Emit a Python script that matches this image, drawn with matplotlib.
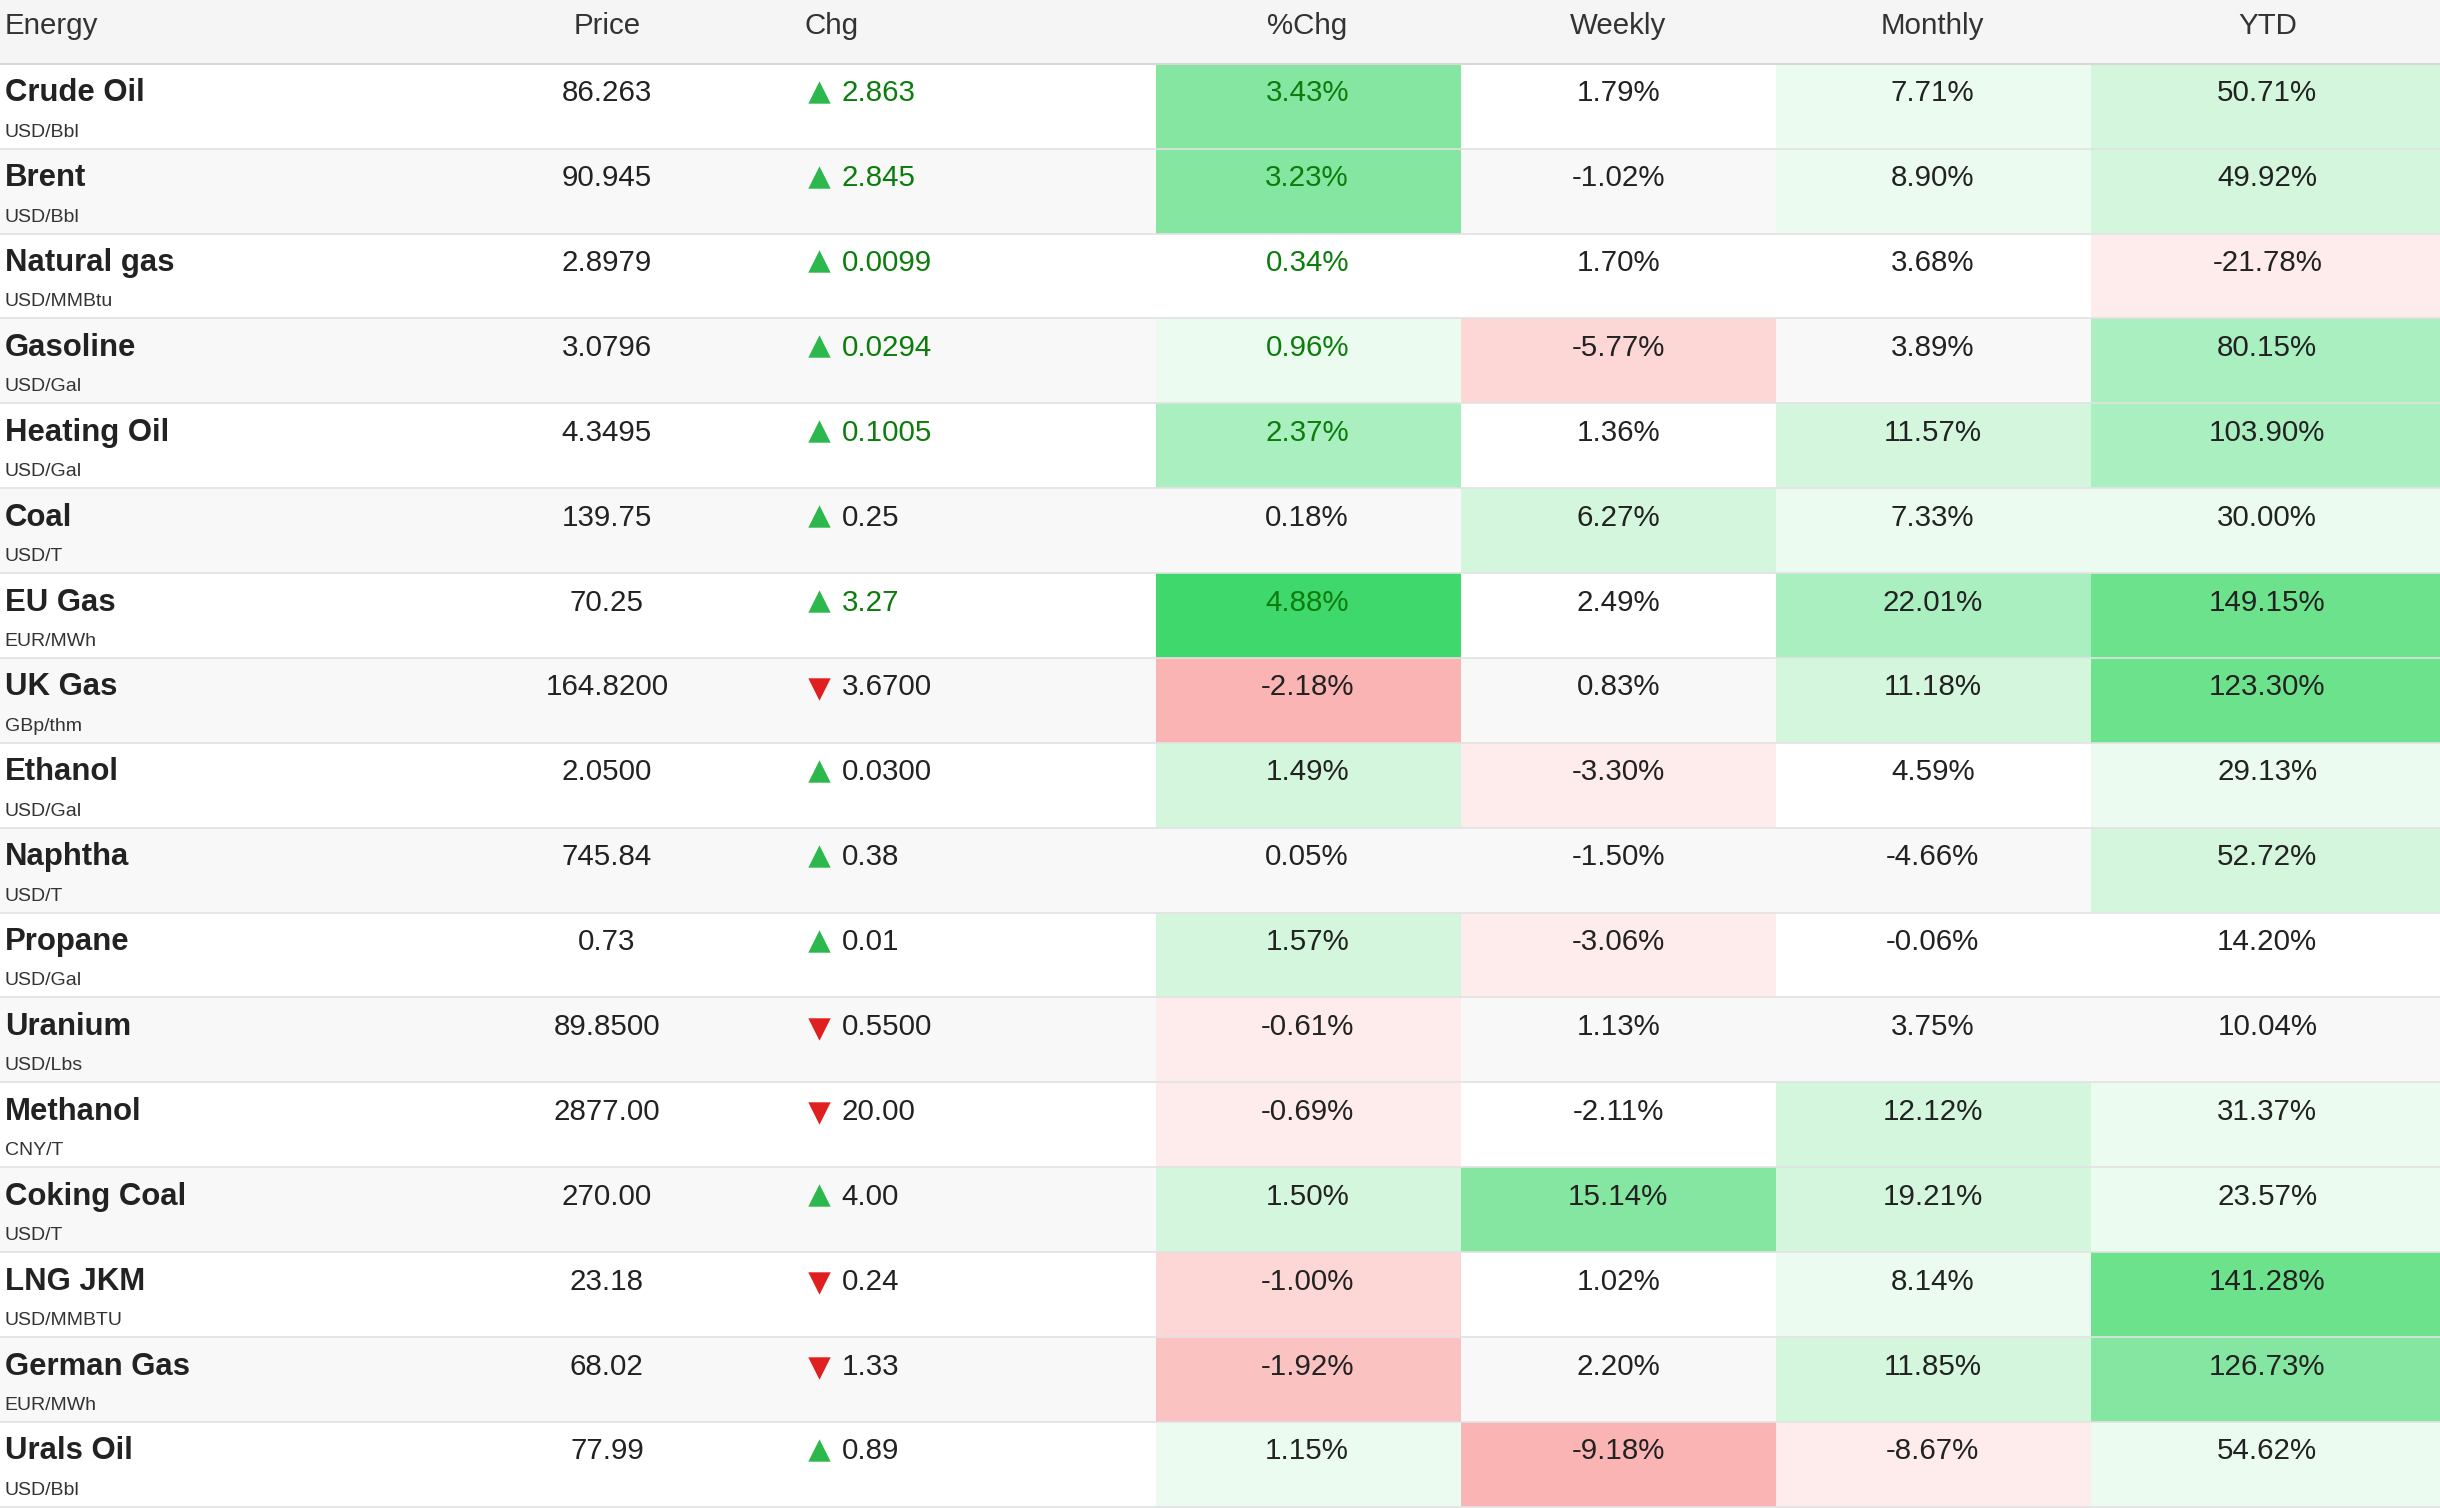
import matplotlib
matplotlib.use("Agg")
import matplotlib.pyplot as plt
from matplotlib.patches import Rectangle

plt.rcParams['font.family'] = ['Liberation Sans', 'DejaVu Sans']

headers = ["Energy", "Price", "Chg", "%Chg", "Weekly", "Monthly", "YTD"]
names = ["Crude Oil", "Brent", "Natural gas", "Gasoline", "Heating Oil", "Coal", "EU Gas",
         "UK Gas", "Ethanol", "Naphtha", "Propane", "Uranium", "Methanol", "Coking Coal",
         "LNG JKM", "German Gas", "Urals Oil"]
units = ["USD/Bbl", "USD/Bbl", "USD/MMBtu", "USD/Gal", "USD/Gal", "USD/T", "EUR/MWh",
         "GBp/thm", "USD/Gal", "USD/T", "USD/Gal", "USD/Lbs", "CNY/T", "USD/T",
         "USD/MMBTU", "EUR/MWh", "USD/Bbl"]
prices = ["86.263", "90.945", "2.8979", "3.0796", "4.3495", "139.75", "70.25", "164.8200",
          "2.0500", "745.84", "0.73", "89.8500", "2877.00", "270.00", "23.18", "68.02", "77.99"]
chg = ["2.863", "2.845", "0.0099", "0.0294", "0.1005", "0.25", "3.27", "3.6700", "0.0300",
       "0.38", "0.01", "0.5500", "20.00", "4.00", "0.24", "1.33", "0.89"]
chg_up = [1, 1, 1, 1, 1, 1, 1, 0, 1, 1, 1, 0, 0, 1, 0, 0, 1]
chg_green_text = [1, 1, 1, 1, 1, 0, 1, 0, 0, 0, 0, 0, 0, 0, 0, 0, 0]
pct = ["3.43%", "3.23%", "0.34%", "0.96%", "2.37%", "0.18%", "4.88%", "-2.18%", "1.49%",
       "0.05%", "1.57%", "-0.61%", "-0.69%", "1.50%", "-1.00%", "-1.92%", "1.15%"]
weekly = ["1.79%", "-1.02%", "1.70%", "-5.77%", "1.36%", "6.27%", "2.49%", "0.83%", "-3.30%",
          "-1.50%", "-3.06%", "1.13%", "-2.11%", "15.14%", "1.02%", "2.20%", "-9.18%"]
monthly = ["7.71%", "8.90%", "3.68%", "3.89%", "11.57%", "7.33%", "22.01%", "11.18%", "4.59%",
           "-4.66%", "-0.06%", "3.75%", "12.12%", "19.21%", "8.14%", "11.85%", "-8.67%"]
ytd = ["50.71%", "49.92%", "-21.78%", "80.15%", "103.90%", "30.00%", "149.15%", "123.30%",
       "29.13%", "52.72%", "14.20%", "10.04%", "31.37%", "23.57%", "141.28%", "126.73%", "54.62%"]

shade = {"G4": "#3fd86c", "G35": "#6de28d", "G3": "#84e6a0", "G2": "#aaefbf", "G1": "#d3f6dd",
         "G0": "#ebfbef", "W": None, "R1": "#feebeb", "R2": "#fdd6d6", "R2b": "#fbc2c2", "R3": "#fbb4b4"}
levels = [["G3", "W", "G0", "G1"], ["G3", "W", "G0", "G1"], ["W", "W", "W", "R1"],
          ["G0", "R2", "W", "G2"], ["G2", "W", "G1", "G2"], ["W", "G1", "G0", "G0"],
          ["G4", "W", "G2", "G35"], ["R3", "W", "G1", "G35"], ["G1", "R1", "W", "G0"],
          ["W", "W", "W", "G1"], ["G1", "R1", "W", "W"], ["R1", "W", "W", "W"],
          ["R1", "W", "G1", "G0"], ["G1", "G3", "G1", "G0"], ["R2", "W", "G0", "G35"],
          ["R2b", "W", "G1", "G3"], ["G0", "R3", "R1", "G0"]]

W, H = 1568, 970
fig = plt.figure(figsize=(24.4, 15.08), dpi=100)
ax = fig.add_axes([0, 0, 1, 1])
ax.set_xlim(0, W); ax.set_ylim(H, 0); ax.axis('off')
s = 1.556
fs_head, fs_val, fs_name, fs_unit = 19 * 0.72 * s, 19 * 0.72 * s, 20 * 0.72 * s, 12.5 * 0.72 * s

top, rh = 41, 54.6
ax.add_patch(Rectangle((0, 0), W, top, color="#f5f5f5", lw=0))
ax.plot([0, W], [top, top], color="#d8d8d8", lw=1.5)
hx = [3, 390, 517, 840, 1040, 1242, 1457]
ha = ["left", "center", "left", "center", "center", "center", "center"]
for x, t, a in zip(hx, headers, ha):
    ax.text(x, 17, t, fontsize=fs_head, ha=a, va="center", color="#333333")

cols_x = [(743, 939), (939, 1141), (1141, 1344), (1344, W)]
centers = [840, 1040, 1242, 1457]
for i in range(len(names)):
    y0 = top + i * rh
    if i % 2 == 1:
        ax.add_patch(Rectangle((0, y0), W, rh, color="#f8f8f8", lw=0))
    for j, (xa, xb) in enumerate(cols_x):
        c = shade[levels[i][j]]
        if c:
            ax.add_patch(Rectangle((xa, y0), xb - xa, rh, color=c, lw=0))
    ax.plot([0, W], [y0 + rh, y0 + rh], color="#e2e2e2", lw=1.2)
    yv = y0 + 19
    ax.text(3, yv, names[i], fontsize=fs_name, fontweight="bold", ha="left", va="center", color="#222222")
    ax.text(3, y0 + 44, units[i], fontsize=fs_unit, ha="left", va="center", color="#333333")
    ax.text(390, yv, prices[i], fontsize=fs_val, ha="center", va="center", color="#222222")
    if chg_up[i]:
        ax.scatter([526], [yv - 1], marker="^", s=260, color="#2db84d", lw=0)
    else:
        ax.scatter([526], [yv + 1], marker="v", s=260, color="#e02020", lw=0)
    green = chg_green_text[i]
    tc = "#0c7d0c" if green else "#222222"
    ax.text(541, yv, chg[i], fontsize=fs_val, ha="left", va="center", color=tc)
    for j, vals in enumerate([pct, weekly, monthly, ytd]):
        c = tc if j == 0 else "#222222"
        ax.text(centers[j], yv, vals[i], fontsize=fs_val, ha="center", va="center", color=c)

fig.savefig("out.png", dpi=100)
